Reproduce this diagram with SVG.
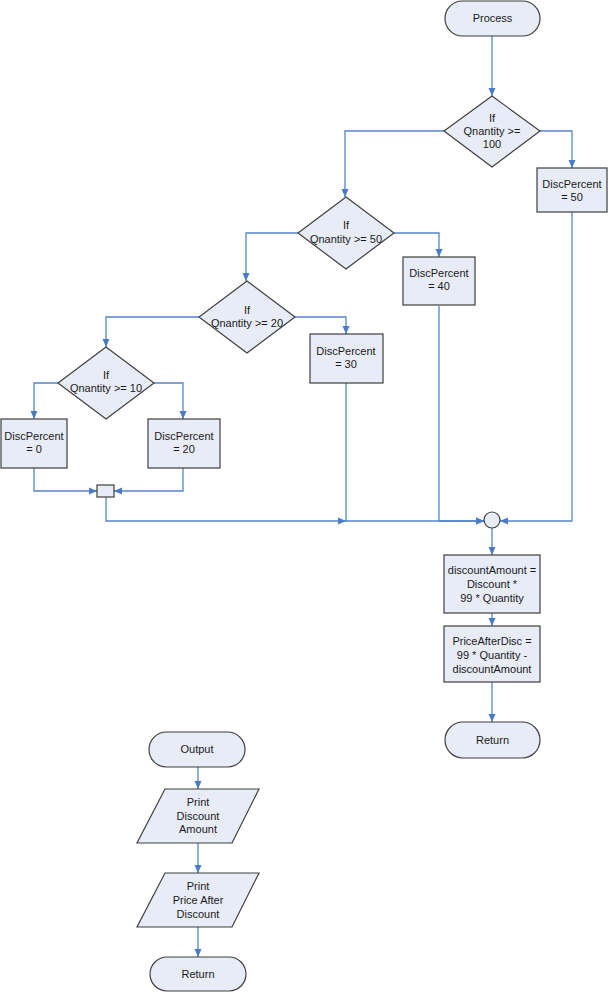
<svg xmlns="http://www.w3.org/2000/svg" width="609" height="994" viewBox="0 0 609 994">
<style>
.n{fill:#E8ECF6;stroke:#3F3F3F;stroke-width:1.2}
.c{fill:none;stroke:#5585CC;stroke-width:1.3}
text{font-family:"Liberation Sans",Arial,sans-serif;font-size:11px;fill:#1a1a1a;text-anchor:middle}
</style>
<defs>
<marker id="a" markerUnits="userSpaceOnUse" markerWidth="8" markerHeight="8" viewBox="0 0 8 8" refX="8" refY="4" orient="auto">
<path d="M0,0.5 L8,4 L0,7.5 Z" fill="#4A7BC8"/>
</marker>
</defs>
<rect width="609" height="994" fill="#fff"/>
<g id="connectors">
<path class="c" d="M492,36 V96" marker-end="url(#a)"/>
<path class="c" d="M540,131 H572 V168" marker-end="url(#a)"/>
<path class="c" d="M444,131 H345 V197" marker-end="url(#a)"/>
<path class="c" d="M394,233 H439 V257" marker-end="url(#a)"/>
<path class="c" d="M298,233 H246 V281" marker-end="url(#a)"/>
<path class="c" d="M295,317 H346 V334" marker-end="url(#a)"/>
<path class="c" d="M199,317 H106 V347" marker-end="url(#a)"/>
<path class="c" d="M58,383 H34 V419" marker-end="url(#a)"/>
<path class="c" d="M154,383 H183 V419" marker-end="url(#a)"/>
<path class="c" d="M34,468 V491 H97" marker-end="url(#a)"/>
<path class="c" d="M183,468 V491 H114" marker-end="url(#a)"/>
<path class="c" d="M106,497 V521 H346" marker-end="url(#a)"/>
<path class="c" d="M346,383 V521 H484" marker-end="url(#a)"/>
<path class="c" d="M439,306 V521 H484" marker-end="url(#a)"/>
<path class="c" d="M572,212 V521 H500" marker-end="url(#a)"/>
<path class="c" d="M492,528 V555" marker-end="url(#a)"/>
<path class="c" d="M492,613 V626" marker-end="url(#a)"/>
<path class="c" d="M492,682 V722" marker-end="url(#a)"/>
<path class="c" d="M198,767 V789" marker-end="url(#a)"/>
<path class="c" d="M198,843 V873" marker-end="url(#a)"/>
<path class="c" d="M198,927 V957" marker-end="url(#a)"/>
</g>
<g id="process">
<rect class="n" x="445" y="1" width="95" height="35" rx="17.5"/>
<text x="492.5" y="22">Process</text>
</g>
<g id="if100">
<path class="n" d="M492,96 L540,131 L492,167 L444,131 Z"/>
<text x="492" y="122">If</text>
<text x="492" y="135">Qnantity &gt;=</text>
<text x="492" y="148">100</text>
</g>
<g id="disc50">
<rect class="n" x="537" y="168" width="70" height="44"/>
<text x="572" y="188">DiscPercent</text>
<text x="572" y="201">= 50</text>
</g>
<g id="if50">
<path class="n" d="M346,197 L394,233 L346,269 L298,233 Z"/>
<text x="346" y="229">If</text>
<text x="346" y="243">Qnantity &gt;= 50</text>
</g>
<g id="disc40">
<rect class="n" x="403" y="257" width="72" height="48"/>
<text x="439" y="277">DiscPercent</text>
<text x="439" y="290">= 40</text>
</g>
<g id="if20">
<path class="n" d="M247,281 L295,317 L247,353 L199,317 Z"/>
<text x="247" y="314">If</text>
<text x="247" y="327">Qnantity &gt;= 20</text>
</g>
<g id="disc30">
<rect class="n" x="310" y="334" width="73" height="49"/>
<text x="346" y="355">DiscPercent</text>
<text x="346" y="368">= 30</text>
</g>
<g id="if10">
<path class="n" d="M106,347 L154,383 L106,419 L58,383 Z"/>
<text x="106" y="379">If</text>
<text x="106" y="392">Qnantity &gt;= 10</text>
</g>
<g id="disc0">
<rect class="n" x="1" y="419" width="66" height="49"/>
<text x="34" y="440">DiscPercent</text>
<text x="34" y="453">= 0</text>
</g>
<g id="disc20">
<rect class="n" x="148" y="419" width="72" height="49"/>
<text x="184" y="440">DiscPercent</text>
<text x="184" y="453">= 20</text>
</g>
<g id="junction">
<rect class="n" x="97" y="485" width="17" height="12"/>
</g>
<g id="merge">
<circle class="n" cx="492" cy="520" r="8"/>
</g>
<g id="calcDiscount">
<rect class="n" x="444" y="555" width="96" height="58"/>
<text x="492" y="574">discountAmount =</text>
<text x="492" y="588">Discount *</text>
<text x="492" y="602">99 * Quantity</text>
</g>
<g id="calcPrice">
<rect class="n" x="444" y="626" width="96" height="56"/>
<text x="492" y="645">PriceAfterDisc =</text>
<text x="492" y="659">99 * Quantity -</text>
<text x="492" y="673">discountAmount</text>
</g>
<g id="return1">
<rect class="n" x="445" y="722" width="95" height="36" rx="18"/>
<text x="492.5" y="744">Return</text>
</g>
<g id="output">
<rect class="n" x="149" y="732" width="96" height="35" rx="17.5"/>
<text x="197" y="753">Output</text>
</g>
<g id="printDiscount">
<path class="n" d="M165,789 L259,789 L232,843 L137,843 Z"/>
<text x="198" y="806">Print</text>
<text x="198" y="820">Discount</text>
<text x="198" y="833">Amount</text>
</g>
<g id="printPrice">
<path class="n" d="M165,873 L259,873 L232,927 L137,927 Z"/>
<text x="198" y="890">Print</text>
<text x="198" y="904">Price After</text>
<text x="198" y="918">Discount</text>
</g>
<g id="return2">
<rect class="n" x="150" y="957" width="96" height="34" rx="17"/>
<text x="198" y="978">Return</text>
</g>
</svg>
